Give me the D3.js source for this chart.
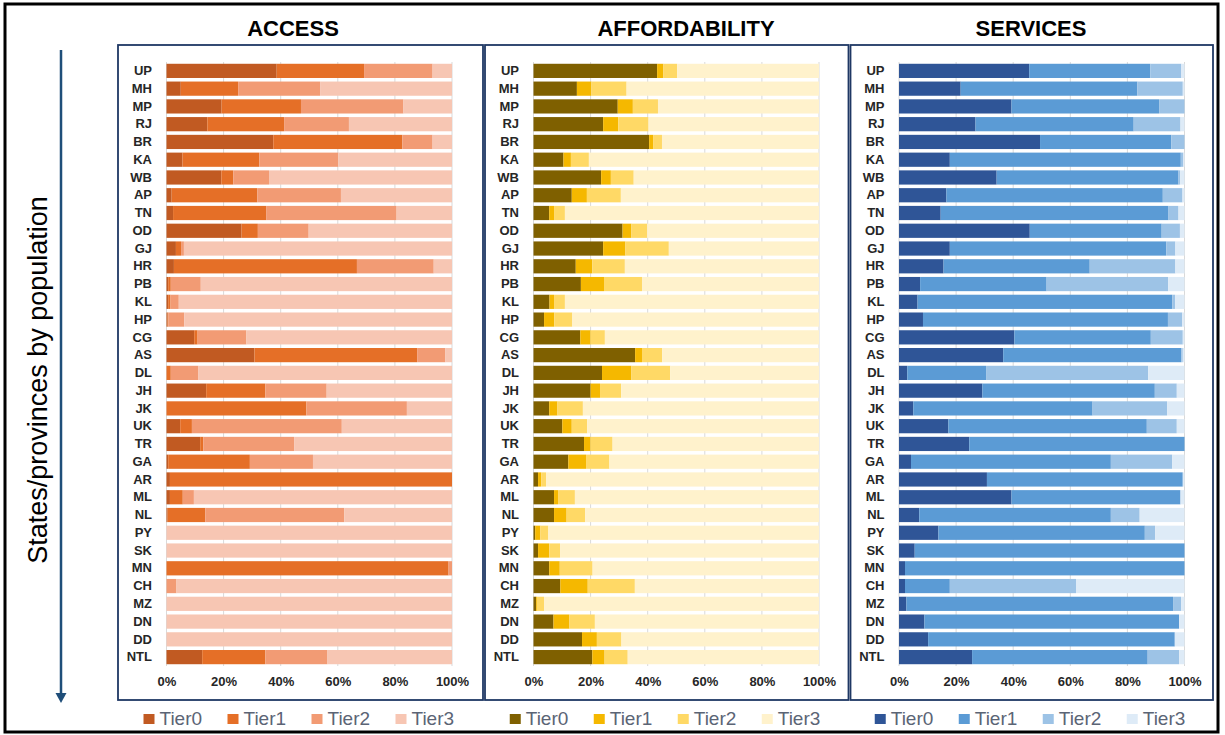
<!DOCTYPE html>
<html>
<head>
<meta charset="utf-8">
<script src="https://cdn.jsdelivr.net/npm/d3@7"></script>
<style>
  html, body { margin: 0; padding: 0; background: #fff; }
  svg { display: block; }
</style>
</head>
<body>
<svg id="chart" width="1225" height="735"></svg>
<script>
// ---------------- DATA ----------------
const states = ["UP","MH","MP","RJ","BR","KA","WB","AP","TN","OD","GJ","HR","PB","KL","HP","CG","AS","DL","JH","JK","UK","TR","GA","AR","ML","NL","PY","SK","MN","CH","MZ","DN","DD","NTL"];
const tiers = ["Tier0","Tier1","Tier2","Tier3"];
const panelTitles = ["ACCESS","AFFORDABILITY","SERVICES"];
const xTickValues = [0,20,40,60,80,100];
const yAxisTitle = "States/provinces by population";

// ACCESS (% of population per tier)
const accessT0 = [38.6,5.0,19.3,14.3,37.4,5.6,19.2,1.8,2.3,26.3,3.3,2.6,0.6,0.6,0.4,9.7,30.8,0,13.9,0,4.8,11.8,0.6,1.2,1.2,0.4,0,0,0,0,0,0,0,12.5];
const accessT1 = [30.6,20.1,27.8,26.9,45.2,26.9,4.2,30.0,32.6,5.7,1.8,64.1,0.9,0.8,0.2,1.2,57.0,1.5,20.7,49.0,4.1,1.1,28.6,98.8,4.5,13.2,0,0,98.8,0,0,0,0,22.1];
const accessT2 = [24.0,28.7,35.9,22.7,10.6,27.7,12.5,29.3,45.7,17.8,1.0,26.9,10.5,2.9,5.6,17.1,9.9,9.7,21.5,35.2,52.5,31.8,22.1,0,3.9,48.7,0,0,1.2,3.5,0,0,0,21.8];
const accessT3 = [6.8,46.2,17.0,36.1,6.8,39.8,64.1,38.9,19.4,50.2,93.9,6.4,88.0,95.7,93.8,72.0,2.3,88.8,43.9,15.8,38.6,55.3,48.7,0,90.4,37.7,100,100,0,96.5,100,100,100,43.6];

// AFFORDABILITY
const affordT0 = [43.3,15.2,29.5,24.4,40.5,10.5,23.7,13.4,5.5,31.2,24.4,14.8,16.6,5.6,3.7,16.4,35.6,24.0,20.0,5.5,10.1,17.7,12.2,1.6,7.2,7.2,0.6,1.6,5.5,9.4,0.9,7.0,17.0,20.6];
const affordT1 = [2.2,5.1,5.3,5.3,1.4,2.6,3.4,5.3,1.7,3.1,7.8,5.8,8.1,1.6,3.6,3.6,2.4,10.3,3.3,2.9,3.3,2.3,6.2,1.1,1.4,4.4,1.8,3.9,3.7,9.6,0.3,5.6,5.2,4.3];
const affordT2 = [4.8,12.3,8.8,10.6,3.1,6.3,8.0,11.9,3.8,5.5,15.2,11.4,13.3,3.8,6.3,5.0,7.1,13.6,7.4,8.9,5.4,7.7,8.2,1.7,5.9,6.5,2.8,3.8,11.5,16.5,2.5,8.9,8.6,8.1];
const affordT3 = [49.7,67.4,56.4,59.7,55.0,80.6,64.9,69.4,89.0,60.2,52.6,68.0,62.0,89.0,86.4,75.0,54.9,52.1,69.3,82.7,81.2,72.3,73.4,95.6,85.5,81.9,94.8,90.7,79.3,64.5,96.3,78.5,69.2,67.0];

// SERVICES
const servT0 = [45.6,21.6,39.4,26.8,49.4,17.8,34.2,16.6,14.6,45.8,17.8,15.6,7.4,6.5,8.4,40.4,36.5,2.9,29.2,5.0,17.3,24.6,4.2,30.8,39.4,7.1,13.8,5.5,2.1,2.1,2.6,8.9,10.2,25.6];
const servT1 = [42.4,61.9,51.7,55.4,46.0,80.9,63.7,75.8,79.8,46.2,75.8,51.2,44.3,89.2,85.8,47.8,62.4,27.6,60.4,62.8,69.5,75.4,70.0,68.6,59.2,67.1,72.3,94.5,97.9,15.7,93.4,89.2,86.4,61.5];
const servT2 = [10.9,15.9,8.9,16.4,4.6,0.9,0.6,6.9,3.5,6.4,3.2,30.0,42.6,1.0,5.0,11.2,0.5,56.8,7.7,26.1,10.5,0,21.5,0,0,10.1,3.6,0,0,44.2,2.8,0,0,11.0];
const servT3 = [1.1,0.6,0,1.4,0,0.4,1.5,0.7,2.1,1.6,3.2,3.2,5.7,3.3,0.8,0.6,0.6,12.7,2.7,6.1,2.7,0,4.3,0.6,1.4,15.7,10.3,0,0,38.0,1.2,1.9,3.4,1.9];

const accessColors = ["#C15A22","#E56F27","#F29B74","#F7C6B3"];
const affordColors = ["#7F6000","#F5B800","#FFD966","#FFF2CC"];
const servColors   = ["#2F5597","#5B9BD5","#9DC3E6","#DEEBF7"];

// -------------- BUILD --------------
const panelsData = [
  {title: panelTitles[0], series: [accessT0, accessT1, accessT2, accessT3], colors: accessColors, box: [118, 483], titleX: 293},
  {title: panelTitles[1], series: [affordT0, affordT1, affordT2, affordT3], colors: affordColors, box: [485, 848.5], titleX: 686},
  {title: panelTitles[2], series: [servT0, servT1, servT2, servT3], colors: servColors, box: [850.5, 1213], titleX: 1031}
];

const svg = d3.select("#chart");
const boxTop = 45, boxBottom = 700;

// outer frame
svg.append("rect")
  .attr("x", 5).attr("y", 4).attr("width", 1213).attr("height", 728)
  .attr("fill", "none").attr("stroke", "#000").attr("stroke-width", 3);

// Y axis title + arrow
svg.append("text")
  .attr("transform", "translate(47,380) rotate(-90)")
  .attr("text-anchor", "middle")
  .attr("font-family", "Liberation Sans, Arial, sans-serif")
  .attr("font-size", 27)
  .attr("fill", "#000")
  .text(yAxisTitle);

svg.append("line")
  .attr("x1", 61).attr("x2", 61).attr("y1", 50).attr("y2", 695)
  .attr("stroke", "#1F4E79").attr("stroke-width", 2.5);
svg.append("path")
  .attr("d", "M55.5,693 L66.5,693 L61,703 Z")
  .attr("fill", "#1F4E79");

const y = d3.scaleBand()
  .domain(states)
  .range([62, 666])
  .paddingInner(0.2)
  .paddingOuter(0.1);

panelsData.forEach(p => {
  const g = svg.append("g");
  const [bx0, bx1] = p.box;
  const x0 = bx0 + 48.5;
  const x = d3.scaleLinear().domain([0, 100]).range([x0, x0 + 285.5]);

  const table = states.map((s, i) => {
    const o = {state: s};
    tiers.forEach((t, k) => o[t] = p.series[k][i]);
    return o;
  });
  const stacked = d3.stack().keys(tiers).offset(d3.stackOffsetExpand)(table);

  g.append("rect")
    .attr("x", bx0).attr("y", boxTop)
    .attr("width", bx1 - bx0).attr("height", boxBottom - boxTop)
    .attr("fill", "#fff").attr("stroke", "#1F3864").attr("stroke-width", 1.8);

  g.append("g").selectAll("line").data(xTickValues).join("line")
    .attr("x1", d => x(d)).attr("x2", d => x(d))
    .attr("y1", 62).attr("y2", 666)
    .attr("stroke", "#D9D9D9").attr("stroke-width", 1);

  g.append("g").selectAll("g").data(stacked).join("g")
    .attr("fill", (d, i) => p.colors[i])
    .selectAll("rect").data(d => d).join("rect")
      .attr("x", d => x(d[0] * 100))
      .attr("y", d => y(d.data.state))
      .attr("width", d => Math.max(0, x(d[1] * 100) - x(d[0] * 100)))
      .attr("height", y.bandwidth());

  const ya = g.append("g")
    .attr("transform", `translate(${x0 - 14.5},0)`)
    .call(d3.axisLeft(y).tickSize(0).tickPadding(0));
  ya.select(".domain").remove();
  ya.selectAll("text")
    .attr("font-family", "Liberation Sans, Arial, sans-serif")
    .attr("font-size", 13).attr("font-weight", "bold").attr("fill", "#262626");

  const xa = g.append("g")
    .attr("transform", `translate(0,677)`)
    .call(d3.axisBottom(x).tickValues(xTickValues).tickFormat(d => d + "%").tickSize(0).tickPadding(0));
  xa.select(".domain").remove();
  xa.selectAll("text")
    .attr("font-family", "Liberation Sans, Arial, sans-serif")
    .attr("font-size", 13).attr("font-weight", "bold").attr("fill", "#262626")
    .attr("dy", "0.71em");

  svg.append("text")
    .attr("x", p.titleX).attr("y", 36)
    .attr("text-anchor", "middle")
    .attr("font-family", "Liberation Sans, Arial, sans-serif")
    .attr("font-size", 22).attr("font-weight", "bold").attr("fill", "#000")
    .text(p.title);

  const spacing = 84, groupW = 3 * spacing + 11 + 6 + 45;
  const lx0 = (bx0 + bx1) / 2 - groupW / 2;
  const lg = svg.append("g").selectAll("g").data(tiers).join("g")
    .attr("transform", (d, i) => `translate(${lx0 + i * spacing},0)`);
  lg.append("rect")
    .attr("x", 0).attr("y", 714).attr("width", 11).attr("height", 10)
    .attr("fill", (d, i) => p.colors[i]);
  lg.append("text")
    .attr("x", 16).attr("y", 724.5)
    .attr("font-family", "Liberation Sans, Arial, sans-serif")
    .attr("font-size", 19).attr("fill", "#5B6475")
    .text(d => d);
});
</script>
</body>
</html>
